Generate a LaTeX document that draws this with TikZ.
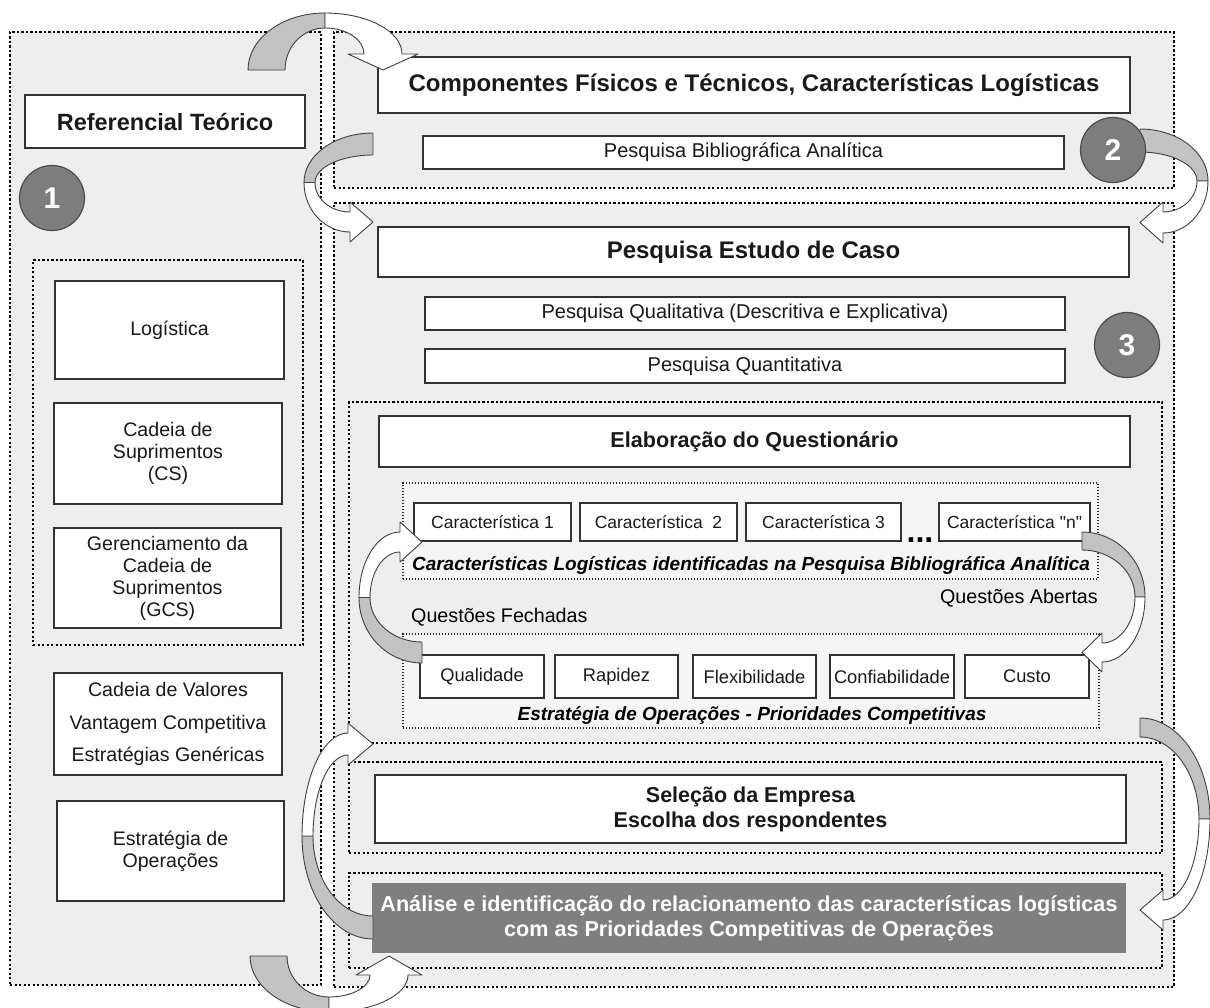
\documentclass[tikz,border=0pt]{standalone}
\usepackage{fontspec}
\setmainfont{Liberation Sans}
\newfontfamily\rawsans[Ligatures=TeXOff]{Liberation Sans}

\definecolor{panelgray}{HTML}{EEEEEE}
\definecolor{innergray}{HTML}{F5F5F5}
\definecolor{ribbongray}{HTML}{C2C2C2}
\definecolor{badgegray}{HTML}{7D7D7D}
\definecolor{darkfill}{HTML}{7F7F7F}
\definecolor{edgecol}{HTML}{333333}

% rectangle node given by its two corners
\newcommand\rbox[7]{%
  \node[#2, minimum width={(#5)-(#3)}, minimum height={(#6)-(#4)}]
    (#1) at ({((#3)+(#5))/2},{((#4)+(#6))/2}) {#7};}

% U-turn ribbon arrow in a local frame (y pointing down):
% #1 reach, #2 half height, #3 start width, #4 apex width,
% #5 end width, #6 head length, #7 head overhang
\newcommand\uturn[7]{%
  \def\uR{#1}\def\uH{#2}\def\uA{#3}\def\uM{#4}\def\uE{#5}\def\uL{#6}\def\uW{#7}%
  \filldraw[ribbonback]
    (\uL,0) .. controls ({\uL-0.5523*(\uR+\uL)},0) and ({-\uR},{\uH-0.5523*\uH}) .. ({-\uR},\uH)
    -- ({-\uR+\uM},\uH)
    .. controls ({-\uR+\uM},{\uH-0.5523*(\uH-\uA)}) and ({\uL-0.5523*(\uR+\uL-\uM)},\uA) .. (\uL,\uA)
    -- cycle;
  \filldraw[ribbonfront]
    ({-\uR},\uH) .. controls ({-\uR},{\uH+0.5523*\uH}) and ({-0.5523*\uR},{2*\uH}) .. (0,{2*\uH})
    -- (0,{2*\uH+\uW}) -- (\uL,{2*\uH-\uE/2}) -- (0,{2*\uH-\uE-\uW}) -- (0,{2*\uH-\uE})
    .. controls ({-0.5523*(\uR-\uM)},{2*\uH-\uE}) and ({-\uR+\uM},{\uH+0.5523*(\uH-\uE)}) .. ({-\uR+\uM},\uH)
    -- cycle;
}

\tikzset{
  panel/.style={fill=panelgray, draw=black, line width=2.3pt, dash pattern=on 2.3pt off 2.2pt,
                inner sep=0pt, outer sep=0pt},
  subpanel/.style={fill=innergray, draw=black!85, line width=1.3pt, dash pattern=on 1.3pt off 1.7pt,
                inner sep=0pt, outer sep=0pt},
  box/.style={fill=white, draw=edgecol, line width=1.3pt, inner sep=0pt, outer sep=0pt,
              align=center, text=black!90},
  darkbox/.style={fill=darkfill, draw=none, inner sep=0pt, outer sep=0pt, align=center, text=white},
  badge/.style={circle, fill=badgegray, draw=black!70, line width=1.2pt, minimum size=65pt,
                inner sep=0pt, text=white, font=\bfseries\fontsize{30}{30}\selectfont},
  ribbonback/.style={fill=ribbongray, draw=black!75, line width=0.9pt, line join=round},
  ribbonfront/.style={fill=white, draw=black!75, line width=0.9pt, line join=round},
  leftfont/.style={font=\fontsize{19.6}{22}\selectfont},
  titlefont/.style={font=\bfseries\fontsize{24}{28}\selectfont},
  midtitle/.style={font=\bfseries\fontsize{21.6}{25}\selectfont},
  plainfont/.style={font=\fontsize{20}{24}\selectfont},
  charfont/.style={font=\fontsize{17.5}{20}\selectfont},
  prioFont/.style={font=\fontsize{18.3}{20}\selectfont},
  capfont/.style={font=\bfseries\itshape\fontsize{19}{22}\selectfont, inner sep=0pt},
  notefont/.style={font=\fontsize{19.7}{22}\selectfont, inner sep=0pt},
}

\begin{document}
\begin{tikzpicture}[x=1pt,y=-1pt]
\useasboundingbox (0,0) rectangle (1210,1007);
\fill[white] (0,0) rectangle (1210,1007);

% ---------- panels ----------
\rbox{leftpanel}{panel}{10}{32}{321}{985}{}
\rbox{stagetwo}{panel}{334}{32}{1174}{188}{}
\rbox{stagethree}{panel}{334}{203}{1174}{987}{}
\rbox{themes}{panel}{33}{260}{303}{645}{}
\rbox{quest}{panel}{349}{402}{1162}{743}{}
\rbox{selpanel}{panel}{349}{762}{1162}{853}{}
\rbox{anpanel}{panel}{349}{873}{1162}{968}{}
\rbox{charpanel}{subpanel}{403}{483}{1098}{579}{}
\rbox{priopanel}{subpanel}{403}{634}{1099}{728}{}

% ---------- left column ----------
\rbox{ref}{box, font=\bfseries\fontsize{23.5}{26}\selectfont}{25}{95}{305}{148}{Referencial Teórico}
\rbox{log}{box, leftfont}{55}{281}{284}{379}{Logística}
\rbox{cs}{box, leftfont}{54}{403}{282}{504}{Cadeia de\\Suprimentos\\(CS)}
\rbox{gcs}{box, leftfont}{54}{528}{281}{628}{Gerenciamento da\\Cadeia de\\Suprimentos\\(GCS)}
\rbox{val}{box, font=\fontsize{19.6}{32.5}\selectfont}{54}{673}{282}{775}{Cadeia de Valores\\Vantagem Competitiva\\Estratégias Genéricas}
\rbox{estr}{box, leftfont}{57}{801}{284}{901}{Estratégia de\\Operações}

% ---------- stage two ----------
\rbox{comp}{box, titlefont}{378}{57}{1130}{113}{Componentes Físicos e Técnicos, Características Logísticas}
\rbox{biblio}{box, plainfont}{423}{136}{1064}{169}{Pesquisa Bibliográfica Analítica}

% ---------- stage three ----------
\rbox{caso}{box, titlefont}{378}{227}{1129}{277}{Pesquisa Estudo de Caso}
\rbox{quali}{box, plainfont}{425}{297}{1065}{330}{Pesquisa Qualitativa (Descritiva e Explicativa)}
\rbox{quanti}{box, plainfont}{425}{349}{1065}{383}{Pesquisa Quantitativa}
\rbox{elab}{box, midtitle}{379}{416}{1130}{467}{Elaboração do Questionário}

\rbox{c1}{box, charfont}{414}{503}{571}{541}{Característica 1}
\rbox{c2}{box, charfont}{580}{503}{737}{541}{Característica \ 2}
\rbox{c3}{box, charfont}{746}{503}{901}{541}{Característica 3}
\rbox{cn}{box, charfont}{939}{503}{1090}{541}{Característica {\rawsans"n"}}
\node[font=\bfseries\fontsize{32}{32}\selectfont, inner sep=0pt, anchor=base] (dots) at (920,542) {...};
\node[capfont] (charcap) at (751,565) {Características Logísticas identificadas na Pesquisa Bibliográfica Analítica};

\node[notefont, anchor=east] (abertas) at (1098,598) {Questões Abertas};
\node[notefont, anchor=west] (fechadas) at (411,617) {Questões Fechadas};

\rbox{qual}{box, prioFont}{420}{655}{544}{698}{Qualidade}
\rbox{rap}{box, prioFont}{555}{655}{678}{698}{Rapidez}
\rbox{flex}{box, prioFont}{693}{655}{816}{698}{Flexibilidade}
\rbox{conf}{box, prioFont}{830}{655}{954}{698}{Confiabilidade}
\rbox{custo}{box, prioFont}{965}{655}{1089}{698}{Custo}
\node[capfont] (priocap) at (752,715) {Estratégia de Operações - Prioridades Competitivas};

\rbox{sel}{box, font=\bfseries\fontsize{21.5}{25}\selectfont}{375}{775}{1126}{843}{Seleção da Empresa\\Escolha dos respondentes}
\rbox{analise}{darkbox, font=\bfseries\fontsize{21.6}{25}\selectfont}{372}{883}{1126}{953}{Análise e identificação do relacionamento das características logísticas\\com as Prioridades Competitivas de Operações}

% ---------- ribbon arrows ----------
% over the top, into stage two
\begin{scope}[cm={0,-1,-1,0,(248,54)}]
  \uturn{41}{77}{37}{15}{38}{16}{16}
\end{scope}
% stage two down into stage three (left side)
\begin{scope}[shift={(350,133)}]
  \uturn{46}{49.5}{22}{11}{20}{23}{10}
\end{scope}
% stage two down into stage three (right side)
\begin{scope}[shift={(1163,129)}, xscale=-1]
  \uturn{45}{52}{23}{11}{21}{23}{10}
\end{scope}
% closed questions loop
\begin{scope}[shift={(400,663)}, yscale=-1]
  \uturn{41}{65.5}{21}{11}{20}{22}{10}
\end{scope}
% open questions loop
\begin{scope}[shift={(1102,532)}, xscale=-1]
  \uturn{43}{65}{18}{10}{19}{20}{10}
\end{scope}
% priorities down to the analysis
\begin{scope}[shift={(1163,718)}, xscale=-1]
  \uturn{47}{101}{19}{11}{20}{23}{10}
\end{scope}
% analysis back up to the questionnaire
\begin{scope}[shift={(348,939)}, yscale=-1]
  \uturn{46}{103}{23}{11}{22}{25}{10}
\end{scope}
% under the bottom, into the analysis
\begin{scope}[shift={(250,975)}, yscale=-1, cm={0,-1,-1,0,(0,0)}]
  \uturn{37}{79}{37}{15}{38}{19}{14}
\end{scope}

% ---------- stage badges ----------
\node[badge] (one) at (52,198) {1};
\node[badge] (two) at (1113,150) {2};
\node[badge] (three) at (1127,345) {3};
\end{tikzpicture}
\end{document}
